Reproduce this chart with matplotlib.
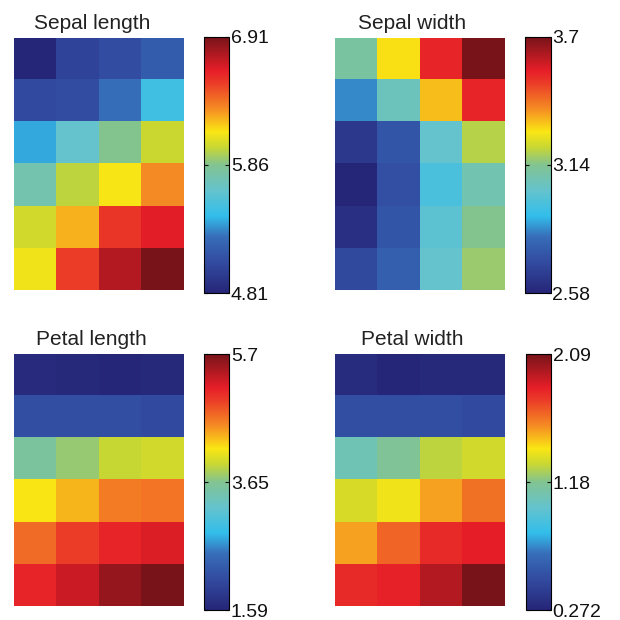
import matplotlib
matplotlib.use('Agg')
import matplotlib.pyplot as plt
import numpy as np
from matplotlib.colors import LinearSegmentedColormap

plt.rcParams['font.family'] = ['Liberation Sans', 'DejaVu Sans']

titles = ['Sepal length', 'Sepal width', 'Petal length', 'Petal width']

# 6 rows x 4 columns of component plane values
sepal_length = [[4.81, 5.02, 5.08, 5.17],
                [5.06, 5.08, 5.27, 5.50],
                [5.40, 5.65, 5.86, 6.01],
                [5.76, 5.99, 6.13, 6.32],
                [6.03, 6.24, 6.55, 6.64],
                [6.11, 6.53, 6.76, 6.91]]
sepal_width = [[3.11, 3.29, 3.54, 3.70],
               [2.86, 3.06, 3.33, 3.54],
               [2.65, 2.75, 3.03, 3.20],
               [2.58, 2.73, 2.97, 3.08],
               [2.62, 2.75, 3.01, 3.14],
               [2.71, 2.78, 3.03, 3.17]]
petal_length = [[1.67, 1.63, 1.59, 1.63],
                [2.12, 2.12, 2.12, 2.08],
                [3.56, 3.73, 3.93, 3.97],
                [4.18, 4.38, 4.63, 4.67],
                [4.71, 4.96, 5.12, 5.21],
                [5.12, 5.29, 5.54, 5.70]]
petal_width = [[0.31, 0.272, 0.29, 0.29],
               [0.51, 0.51, 0.51, 0.49],
               [1.07, 1.16, 1.29, 1.33],
               [1.34, 1.40, 1.54, 1.64],
               [1.54, 1.67, 1.82, 1.85],
               [1.82, 1.84, 1.96, 2.09]]

tick_labels = [['4.81', '5.86', '6.91'],
               ['2.58', '3.14', '3.7'],
               ['1.59', '3.65', '5.7'],
               ['0.272', '1.18', '2.09']]

# muted, print-like jet
anchors = [(0.00, (38, 38, 120)), (0.12, (50, 75, 160)), (0.22, (55, 110, 185)),
           (0.30, (50, 190, 235)), (0.40, (100, 195, 205)), (0.50, (130, 195, 145)),
           (0.57, (200, 215, 50)), (0.63, (250, 230, 20)), (0.72, (245, 140, 35)),
           (0.82, (235, 60, 40)), (0.87, (230, 30, 40)), (1.00, (120, 20, 25))]
cmap = LinearSegmentedColormap.from_list(
    'pjet', [(p, tuple(c / 255 for c in rgb)) for p, rgb in anchors])

fig = plt.figure(figsize=(6.2, 6.2), dpi=100)

heat_pos = [[0.0226, 0.5323], [0.540, 0.5323], [0.0226, 0.0226], [0.540, 0.0226]]
cbar_pos = [[0.329, 0.5274], [0.847, 0.5274], [0.329, 0.016], [0.848, 0.016]]

for i, data in enumerate([sepal_length, sepal_width, petal_length, petal_width]):
    data = np.array(data)
    ax = fig.add_axes([heat_pos[i][0], heat_pos[i][1], 0.2726, 0.407])
    lo, hi = data.min(), data.max()
    im = ax.imshow(data, cmap=cmap, vmin=lo, vmax=hi, aspect='auto',
                   interpolation='nearest')
    ax.axis('off')
    ax.set_title(titles[i], fontsize=15, pad=6, color='#222222', x=0.46)

    cax = fig.add_axes([cbar_pos[i][0], cbar_pos[i][1], 0.041, 0.413])
    cb = fig.colorbar(im, cax=cax)
    cb.set_ticks([lo, (lo + hi) / 2, hi])
    cb.set_ticklabels(tick_labels[i])
    cb.outline.set_linewidth(0.8)
    cax.tick_params(direction='in', left=True, right=True, length=3,
                    width=0.8, labelsize=14, pad=1, colors='#111111')

fig.savefig('out.png', dpi=100)
